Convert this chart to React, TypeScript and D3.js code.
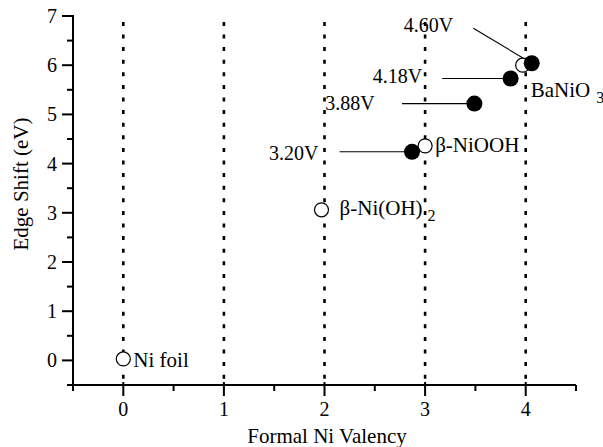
import { useRef, useEffect } from 'react';
import * as d3 from 'd3';

// Reference samples (open circles): valency, edge shift (eV)
const refNames = ['Ni foil', 'β-Ni(OH)', 'β-NiOOH', 'BaNiO'];
const refSubs = ['', '2', '', '3'];
const refX = [0, 1.97, 3.0, 3.97];
const refY = [0.03, 3.06, 4.36, 6.0];
const refLabelX = [0.1, 2.15, 3.1, 4.05];
const refLabelY = [-0.13, 2.96, 4.24, 5.36];

// Charged electrodes (filled circles)
const chargeLabels = ['3.20V', '3.88V', '4.18V', '4.60V'];
const chargeX = [2.87, 3.49, 3.85, 4.06];
const chargeY = [4.24, 5.22, 5.73, 6.04];
const leaderX = [2.15, 2.77, 3.17, 3.48];
const leaderY = [4.24, 5.22, 5.73, 6.75];
const chargeLabelX = [1.94, 2.5, 2.97, 3.28];
const chargeLabelY = [4.07, 5.09, 5.63, 6.68];

const xTicks = [0, 1, 2, 3, 4];
const yTicks = [0, 1, 2, 3, 4, 5, 6, 7];

const W = 603;
const H = 447;
const FONT = "'Liberation Serif', 'Times New Roman', Times, serif";

export default function App() {
  const svgRef = useRef<SVGSVGElement>(null);

  useEffect(() => {
    if (!svgRef.current) return;
    const svg = d3.select(svgRef.current);
    svg.selectAll('*').remove();

    const x = d3.scaleLinear().domain([-0.5, 4.5]).range([73, 576]);
    const y = d3.scaleLinear().domain([-0.5, 7]).range([385, 16]);

    // dotted guides at integer valencies
    svg.append('g')
      .selectAll('line')
      .data(xTicks)
      .join('line')
      .attr('x1', (d) => x(d))
      .attr('x2', (d) => x(d))
      .attr('y1', y(6.88))
      .attr('y2', y(-0.5))
      .attr('stroke', '#000')
      .attr('stroke-width', 2.6)
      .attr('stroke-dasharray', '4 8.6');

    // axes
    const xMinor = d3.range(-0.5, 4.51, 1);
    const yMinor = d3.range(-0.5, 6.51, 1);
    const ax = svg.append('g').attr('stroke', '#000').attr('stroke-width', 2);
    ax.append('line')
      .attr('x1', x(-0.5)).attr('x2', x(4.5))
      .attr('y1', y(-0.5)).attr('y2', y(-0.5));
    ax.append('line')
      .attr('x1', x(-0.5)).attr('x2', x(-0.5))
      .attr('y1', y(-0.5)).attr('y2', y(7));
    ax.selectAll('.xmaj').data(xTicks).join('line')
      .attr('x1', (d) => x(d)).attr('x2', (d) => x(d))
      .attr('y1', y(-0.5) - 3).attr('y2', y(-0.5) + 11);
    ax.selectAll('.xmin').data(xMinor).join('line')
      .attr('x1', (d) => x(d)).attr('x2', (d) => x(d))
      .attr('y1', y(-0.5)).attr('y2', y(-0.5) + 6);
    ax.selectAll('.ymaj').data(yTicks).join('line')
      .attr('x1', x(-0.5) - 11).attr('x2', x(-0.5) + 1)
      .attr('y1', (d) => y(d)).attr('y2', (d) => y(d));
    ax.selectAll('.ymin').data(yMinor).join('line')
      .attr('x1', x(-0.5) - 6).attr('x2', x(-0.5))
      .attr('y1', (d) => y(d)).attr('y2', (d) => y(d));

    const txt = svg.append('g').style('font-family', FONT).attr('fill', '#000');

    txt.selectAll('.xl').data(xTicks).join('text')
      .attr('x', (d) => x(d)).attr('y', 416)
      .attr('text-anchor', 'middle').attr('font-size', 20)
      .text((d) => d);
    txt.selectAll('.yl').data(yTicks).join('text')
      .attr('x', 57).attr('y', (d) => y(d) + 7)
      .attr('text-anchor', 'end').attr('font-size', 20)
      .text((d) => d);

    txt.append('text')
      .attr('x', 327).attr('y', 443)
      .attr('text-anchor', 'middle').attr('font-size', 21)
      .text('Formal Ni Valency');
    txt.append('text')
      .attr('transform', 'translate(28,184) rotate(-90)')
      .attr('text-anchor', 'middle').attr('font-size', 21)
      .text('Edge Shift (eV)');

    // leader lines
    svg.append('g')
      .selectAll('line')
      .data(chargeX)
      .join('line')
      .attr('x1', (_d, i) => x(leaderX[i]))
      .attr('y1', (_d, i) => y(leaderY[i]))
      .attr('x2', (d) => x(d))
      .attr('y2', (_d, i) => y(chargeY[i]))
      .attr('stroke', '#000')
      .attr('stroke-width', 1.1);

    // open circles
    svg.append('g')
      .selectAll('circle')
      .data(refX)
      .join('circle')
      .attr('cx', (d) => x(d))
      .attr('cy', (_d, i) => y(refY[i]))
      .attr('r', 7)
      .attr('fill', '#fff')
      .attr('stroke', '#000')
      .attr('stroke-width', 1.2);

    // filled circles
    svg.append('g')
      .selectAll('circle')
      .data(chargeX)
      .join('circle')
      .attr('cx', (d) => x(d))
      .attr('cy', (_d, i) => y(chargeY[i]))
      .attr('r', 8)
      .attr('fill', '#000');

    // voltage labels
    txt.selectAll('.cl').data(chargeLabels).join('text')
      .attr('x', (_d, i) => x(chargeLabelX[i]))
      .attr('y', (_d, i) => y(chargeLabelY[i]))
      .attr('text-anchor', 'end').attr('font-size', 20)
      .text((d) => d);

    // compound labels
    const rl = txt.selectAll('.rl').data(refNames).join('text')
      .attr('x', (_d, i) => x(refLabelX[i]))
      .attr('y', (_d, i) => y(refLabelY[i]))
      .attr('font-size', 21);
    rl.append('tspan').text((d) => d);
    rl.append('tspan')
      .attr('dx', (_d, i) => (i === 3 ? 6 : 5))
      .attr('dy', 6)
      .attr('font-size', 16)
      .text((_d, i) => refSubs[i]);
  }, []);

  return (
    <svg
      ref={svgRef}
      width={W}
      height={H}
      style={{ position: 'absolute', left: 0, top: 0, background: '#fff', fontFamily: FONT }}
    />
  );
}
